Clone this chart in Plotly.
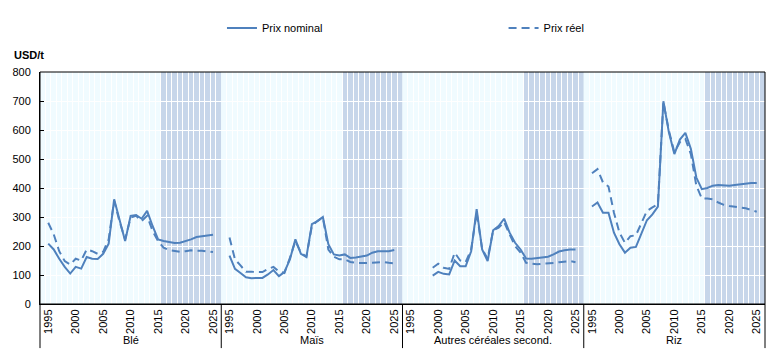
import plotly.graph_objects as go

years = list(range(1995, 2026))
panels = ["Blé", "Maïs", "Autres céréales second.", "Riz"]

ble_nominal = [208, 188, 156, 128, 105, 128, 122, 162, 156, 155, 173, 208, 361, 292, 217, 304, 307, 294, 321, 269, 223,
               217, 214, 210, 211, 216, 223, 231, 234, 237, 239]
ble_reel = [280, 240, 182, 148, 136, 156, 150, 188, 182, 173, 180, 223, 356, 283, 223, 298, 304, 286, 304, 252, 217,
            194, 186, 182, 180, 182, 185, 184, 184, 181, 179]
mais_nominal = [167, 121, 107, 92, 89, 89, 90, 102, 117, 96, 110, 154, 223, 173, 162, 275, 286, 300, 206, 171, 167,
                171, 159, 160, 163, 167, 177, 182, 182, 182, 186]
mais_reel = [229, 154, 133, 111, 111, 111, 110, 121, 128, 112, 107, 159, 217, 177, 163, 269, 286, 298, 188, 163, 154,
             154, 145, 142, 141, 141, 142, 144, 145, 142, 140]
autres_nominal = [None, None, None, None, 98, 111, 104, 102, 150, 130, 130, 182, 327, 188, 148, 254, 269, 294, 246, 211, 188,
                  157, 156, 158, 162, 163, 171, 181, 185, 188, 188]
autres_reel = [None, None, None, None, 125, 139, 125, 121, 177, 150, 144, 188, 315, 190, 156, 254, 263, 283, 240, 200, 177,
               142, 139, 137, 139, 139, 141, 144, 145, 148, 144]
riz_nominal = [336, 350, 315, 315, 246, 206, 177, 194, 197, 242, 289, 309, 336, 699, 592, 517, 567, 590, 535, 436, 396,
               400, 408, 410, 408, 408, 410, 412, 416, 417, 417]
riz_reel = [451, 465, 419, 405, 315, 246, 211, 234, 237, 281, 321, 333, 344, 696, 598, 523, 558, 569, 517, 408, 364,
            364, 361, 350, 342, 338, 335, 333, 330, 324, 318]

nominal = [ble_nominal, mais_nominal, autres_nominal, riz_nominal]
reel = [ble_reel, mais_reel, autres_reel, riz_reel]

tick_years = [1995, 2000, 2005, 2010, 2015, 2020, 2025]
projection_start = 2015.5

LINE = "#4F81BD"
BG = "#F0FBFF"
SHADE = "#C7D6EA"
FONT = "Arial, Liberation Sans, sans-serif"

fig = go.Figure()
layout = {}
shapes = []
annotations = []
n = len(panels)
for i in range(n):
    xa = "x" if i == 0 else f"x{i+1}"
    key = "xaxis" if i == 0 else f"xaxis{i+1}"
    fig.add_trace(go.Scatter(x=years, y=nominal[i], xaxis=xa, yaxis="y", mode="lines",
                             line=dict(color=LINE, width=2), name="Prix nominal",
                             showlegend=(i == 0), legend="legend", connectgaps=False))
    fig.add_trace(go.Scatter(x=years, y=reel[i], xaxis=xa, yaxis="y", mode="lines",
                             line=dict(color=LINE, width=2, dash="8px,5px"), name="Prix réel",
                             showlegend=(i == 0), legend="legend2", connectgaps=False))
    layout[key] = dict(
        domain=[i / n, (i + 1) / n], range=[1993.5, 2026.5], anchor="y",
        tickvals=tick_years, ticktext=[str(t) for t in tick_years], tickangle=-90,
        showgrid=False, zeroline=False, ticks="", showline=True, linecolor="black", linewidth=1,
        tickfont=dict(size=11, color="black", family=FONT), automargin=False,
        minor=dict(tick0=1993.5, dtick=1, showgrid=True, gridcolor="white", gridwidth=1, ticks=""),
        fixedrange=True,
    )
    shapes.append(dict(type="rect", xref=xa, yref="y", x0=projection_start, x1=2026.5, y0=0, y1=800,
                       fillcolor=SHADE, line=dict(width=0), layer="below"))
    shapes.append(dict(type="line", xref="paper", yref="paper", x0=i / n, x1=i / n, y0=-0.19, y1=0,
                       line=dict(color="black", width=1)))
    annotations.append(dict(text=panels[i], xref="paper", yref="paper", x=(i + 0.5) / n, y=-0.155,
                            showarrow=False, xanchor="center", yanchor="middle",
                            font=dict(size=11, color="black", family=FONT)))

shapes.append(dict(type="line", xref="paper", yref="paper", x0=1, x1=1, y0=-0.19, y1=0,
                   line=dict(color="black", width=1)))
shapes.append(dict(type="rect", xref="paper", yref="paper", x0=0, x1=1, y0=0, y1=1,
                   line=dict(color="black", width=1), fillcolor="rgba(0,0,0,0)", layer="above"))

annotations.append(dict(text="<b>USD/t</b>", xref="paper", yref="paper", x=-0.039, y=1.073,
                        xanchor="left", yanchor="middle", showarrow=False,
                        font=dict(size=11, color="black", family=FONT)))

fig.update_layout(
    width=775, height=360,
    margin=dict(l=40, r=10, t=72, b=56, autoexpand=False),
    plot_bgcolor=BG, paper_bgcolor="white",
    font=dict(family=FONT, size=11, color="black"),
    yaxis=dict(range=[0, 800], dtick=100, showgrid=True, gridcolor="white", gridwidth=1,
               zeroline=False, ticks="inside", ticklen=4, tickcolor="black", ticklabelstandoff=6,
               showline=True, linecolor="black", linewidth=1, automargin=False,
               tickfont=dict(size=11, color="black", family=FONT), fixedrange=True, anchor="x"),
    legend=dict(orientation="h", x=0.251, y=1.19, xanchor="left", yanchor="middle",
                font=dict(size=11, family=FONT), bgcolor="rgba(0,0,0,0)"),
    legend2=dict(orientation="h", x=0.6394, y=1.19, xanchor="left", yanchor="middle",
                 font=dict(size=11, family=FONT), bgcolor="rgba(0,0,0,0)"),
    shapes=shapes, annotations=annotations, showlegend=True,
    **layout,
)

fig.write_html("out.html", config={"displayModeBar": False},
               post_script="document.body.style.margin='0';document.body.style.overflow='hidden';")
